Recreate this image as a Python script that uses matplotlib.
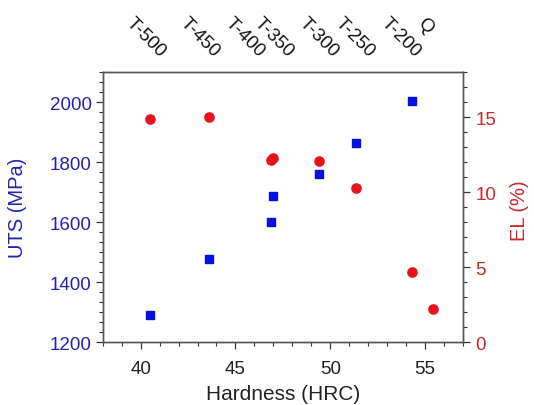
import matplotlib.pyplot as plt
from matplotlib.ticker import AutoMinorLocator, MultipleLocator

plt.rcParams['font.family'] = ['Liberation Sans', 'DejaVu Sans']

# hardness (HRC) and properties
hrc_uts = [40.5, 43.6, 46.9, 47.0, 49.4, 51.35, 54.3]
uts = [1290, 1476, 1600, 1688, 1760, 1865, 2002]

hrc_el = [40.5, 43.6, 46.9, 47.0, 49.4, 51.35, 54.3, 55.4]
el = [14.9, 15.0, 12.15, 12.3, 12.05, 10.3, 4.7, 2.2]

# treatment labels along the top
cond_labels = ['T-500', 'T-450', 'T-400', 'T-350', 'T-300', 'T-250', 'T-200', 'Q']
cond_pos = [40.3, 43.1, 45.5, 47.0, 49.4, 51.3, 53.7, 55.0]

blue_txt = '#2323b0'
red_txt = '#c8282c'

fig = plt.figure(figsize=(5.34, 4.06), dpi=100)
ax = fig.add_axes([0.1923, 0.155, 0.6747, 0.665])
ax2 = ax.twinx()

ax.scatter(hrc_uts, uts, marker='s', s=30, color='#0810e0', zorder=3)
ax2.scatter(hrc_el, el, marker='o', s=44, color='#e8121c', zorder=3)

ax.set_xlim(38, 57)
ax.set_ylim(1200, 2100)
ax2.set_ylim(0, 18)

ax.xaxis.set_major_locator(MultipleLocator(5))
ax.xaxis.set_minor_locator(MultipleLocator(1))
ax.yaxis.set_major_locator(MultipleLocator(200))
ax.yaxis.set_minor_locator(AutoMinorLocator(6))
ax2.yaxis.set_major_locator(MultipleLocator(5))
ax2.yaxis.set_minor_locator(MultipleLocator(1))

for a in (ax, ax2):
    a.tick_params(which='major', length=5, width=0.9, color='#333333', labelsize=13.5)
    a.tick_params(which='minor', length=3, width=0.8, color='#333333')
    for s in a.spines.values():
        s.set_color('#555555')
        s.set_linewidth(1.0)

ax.tick_params(axis='y', labelcolor=blue_txt, pad=3)
ax.tick_params(axis='x', labelcolor='#222222', pad=8)
ax2.tick_params(axis='y', labelcolor=red_txt, pad=4)

ax.set_xlabel('Hardness (HRC)', fontsize=15, color='#222222')
ax.set_ylabel('UTS (MPa)', fontsize=14.5, color=blue_txt)
ax2.set_ylabel('EL (%)', fontsize=14.5, color=red_txt)
ax.xaxis.set_label_coords(0.5, -0.156)
ax.yaxis.set_label_coords(-0.21, 0.5)
ax2.yaxis.set_label_coords(1.13, 0.49)

for lab, xp in zip(cond_labels, cond_pos):
    ax.text(xp, 1.215, lab, transform=ax.get_xaxis_transform(), rotation=-45,
            ha='center', va='top', fontsize=13.5, color='#111111')

fig.savefig('out.png', dpi=100)
